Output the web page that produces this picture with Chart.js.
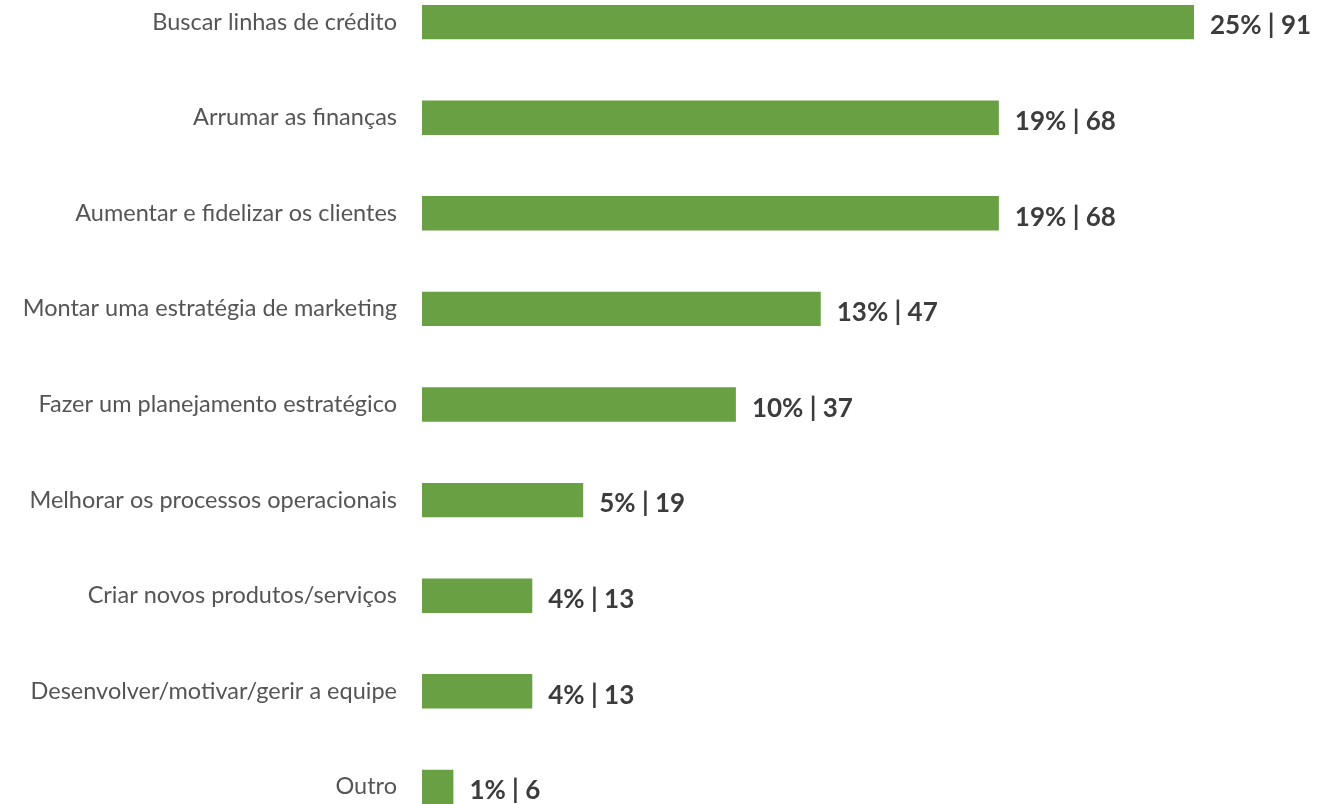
<!DOCTYPE html>
<html>
<head>
<meta charset="utf-8">
<script src="https://cdn.jsdelivr.net/npm/chart.js@4"></script>
<style>
html,body{margin:0;padding:0;background:#fff;overflow:hidden;}
#wrap{position:relative;width:1317px;height:804px;overflow:hidden;}
#c{position:absolute;left:0;top:-17px;}
</style>
</head>
<body>
<div id="wrap"><canvas id="c" width="1317" height="843"></canvas></div>
<script>
const categories = [
  "Buscar linhas de crédito",
  "Arrumar as finanças",
  "Aumentar e fidelizar os clientes",
  "Montar uma estratégia de marketing",
  "Fazer um planejamento estratégico",
  "Melhorar os processos operacionais",
  "Criar novos produtos/serviços",
  "Desenvolver/motivar/gerir a equipe",
  "Outro"
];
const percentLabels = ["25%", "19%", "19%", "13%", "10%", "5%", "4%", "4%", "1%"];
const countLabels = [91, 68, 68, 47, 37, 19, 13, 13, 6];
// bar lengths as drawn in the picture (in count units)
const barValues = [91, 68, 68, 47, 37, 19, 13, 13, 3.7];

const valueLabelPlugin = {
  id: 'valueLabels',
  afterDatasetsDraw(chart) {
    const ctx = chart.ctx;
    const meta = chart.getDatasetMeta(0);
    ctx.save();
    ctx.font = 'bold 26px Lato';
    ctx.fillStyle = '#3c3c3c';
    ctx.textAlign = 'left';
    ctx.textBaseline = 'middle';
    meta.data.forEach((bar, i) => {
      const txt = percentLabels[i] + ' | ' + countLabels[i];
      ctx.fillText(txt, bar.x + 16, bar.y + 4);
    });
    ctx.restore();
  }
};

new Chart(document.getElementById('c'), {
  type: 'bar',
  data: {
    labels: categories,
    datasets: [{
      data: barValues,
      backgroundColor: '#68a043',
      borderWidth: 0,
      clip: false,
      barPercentage: 0.36,
      categoryPercentage: 1.0
    }]
  },
  plugins: [valueLabelPlugin],
  options: {
    indexAxis: 'y',
    responsive: false,
    animation: false,
    layout: { padding: { top: 0, bottom: 0, left: 0, right: 0 } },
    plugins: { legend: { display: false }, tooltip: { enabled: false } },
    scales: {
      x: {
        display: false,
        min: 0,
        max: 105.5
      },
      y: {
        offset: false,
        grid: { display: false, drawTicks: false },
        border: { display: false },
        ticks: {
          padding: 25,
          color: '#555555',
          font: { family: 'Lato', size: 23.5 }
        },
        afterFit(scale) { scale.width = 422; }
      }
    }
  }
});
</script>
</body>
</html>
